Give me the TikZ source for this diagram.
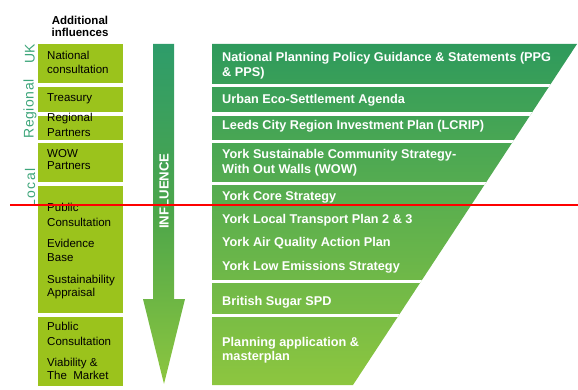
\documentclass[tikz,border=0pt]{standalone}
\usepackage{fontspec}
\setmainfont{Liberation Sans}
\begin{document}
\begin{tikzpicture}[x=1pt,y=-1pt,
  lefttxt/.style={anchor=base west,inner sep=0pt,font=\fontsize{11.5}{14}\selectfont,text=black},
  righttxt/.style={anchor=base west,inner sep=0pt,font=\bfseries\fontsize{12.7}{15}\selectfont,text=white},
  sidelbl/.style={inner sep=0pt,rotate=90,font=\fontsize{14}{16}\selectfont,text=sidegreen},
  leftbox/.style={fill=leftgreen,draw=none}]
\definecolor{leftgreen}{HTML}{9BC31C}
\definecolor{sidegreen}{HTML}{3DA57A}
\definecolor{topgreen}{HTML}{2E9A5C}
\definecolor{midgreen}{HTML}{4DA64A}
\definecolor{botgreen}{HTML}{8DC63F}
\definecolor{arrtop}{HTML}{2E9C6A}
\definecolor{redline}{HTML}{FF0000}
\useasboundingbox (0,0) rectangle (578,390);
% heading
\node[anchor=base,inner sep=0pt,font=\bfseries\fontsize{11.5}{14}\selectfont] (head) at (80,25) {Additional};
\node[anchor=base,inner sep=0pt,font=\bfseries\fontsize{11.5}{14}\selectfont] (head2) at (80,37) {influences};
% side labels
\node[sidelbl] (uk) at (30,54) {UK};
\node[sidelbl] (reg) at (30,109) {\addfontfeature{LetterSpace=4}Regional};
\node[sidelbl] (loc) at (30,188) {\addfontfeature{LetterSpace=10}Local};
% left boxes
\fill[leftbox] (38,44) rectangle (123,83);
\fill[leftbox] (38,87) rectangle (123,112);
\fill[leftbox] (38,116) rectangle (123,140);
\fill[leftbox] (38,143) rectangle (123,182);
\fill[leftbox] (38,186) rectangle (123,313);
\fill[leftbox] (38,317) rectangle (123,386);
\node[lefttxt] (l1a) at (47,60) {National};
\node[lefttxt] (l1b) at (47,74) {consultation};
\node[lefttxt] (l2) at (47,101.7) {Treasury};
\node[lefttxt] (l3a) at (47,121.7) {Regional};
\node[lefttxt] (l3b) at (47,136.7) {Partners};
\node[lefttxt] (l4a) at (47,157.3) {WOW};
\node[lefttxt] (l4b) at (47,170) {Partners};
\node[lefttxt] (l5a) at (47,211.7) {Public};
\node[lefttxt] (l5b) at (47,226.7) {Consultation};
\node[lefttxt] (l5c) at (47,247.3) {Evidence};
\node[lefttxt] (l5d) at (47,261.7) {Base};
\node[lefttxt] (l5e) at (47,283.3) {Sustainability};
\node[lefttxt] (l5f) at (47,296) {Appraisal};
\node[lefttxt] (l6a) at (47,330.7) {Public};
\node[lefttxt] (l6b) at (47,345) {Consultation};
\node[lefttxt] (l6c) at (47,366.7) {Viability \&};
\node[lefttxt] (l6d) at (47,379.3) {The\ \ Market};
% arrow
\shade[top color=arrtop,bottom color=botgreen,middle color=midgreen]
  (153,44) -- (174,44) -- (174,299) -- (185,299) -- (164,384) -- (143,299) -- (153,299) -- cycle;
\node[inner sep=0pt,rotate=90,text=white,font=\bfseries\fontsize{13.2}{15}\selectfont] (infl) at (164,191) {INFLUENCE};
% right trapezoid
\begin{scope}
\clip (212,44) -- (577,44) -- (353,385) -- (212,385) -- cycle;
\shade[top color=topgreen,middle color=midgreen,bottom color=botgreen] (212,44) rectangle (580,385);
\foreach \a/\b in {84/87,112/116,140/143,182/185,280/283,314/317}
  \fill[white] (210,\a) rectangle (580,\b);
\end{scope}
\node[righttxt] (r1a) at (222,62) {National Planning Policy Guidance \& Statements (PPG};
\node[righttxt] (r1b) at (222,77) {\& PPS)};
\node[righttxt] (r2) at (222,104) {Urban Eco-Settlement Agenda};
\node[righttxt] (r3) at (222,130) {Leeds City Region Investment Plan (LCRIP)};
\node[righttxt] (r4a) at (222,159) {York Sustainable Community Strategy-};
\node[righttxt] (r4b) at (222,174) {With Out Walls (WOW)};
\node[righttxt] (r5a) at (222,200.7) {York Core Strategy};
\node[righttxt] (r5b) at (222,223) {York Local Transport Plan 2 \& 3};
\node[righttxt] (r5c) at (222,246.7) {York Air Quality Action Plan};
\node[righttxt] (r5d) at (222,270) {York Low Emissions Strategy};
\node[righttxt] (r6) at (222,305) {British Sugar SPD};
\node[righttxt] (r7a) at (222,346.7) {Planning application \&};
\node[righttxt] (r7b) at (222,360.7) {masterplan};
% red line
\fill[redline] (10,204.4) rectangle (578,206.4);
\end{tikzpicture}
\end{document}
